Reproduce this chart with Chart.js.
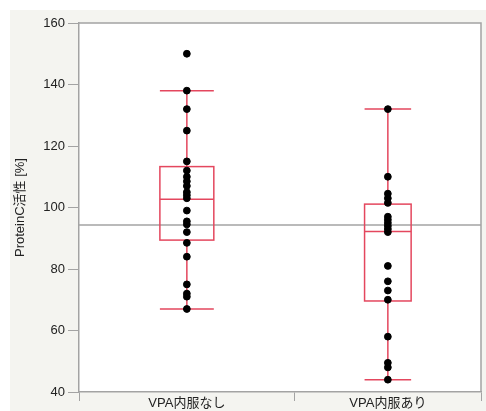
<!DOCTYPE html>
<html>
<head>
<meta charset="utf-8">
<script src="https://cdn.jsdelivr.net/npm/chart.js@4/dist/chart.umd.min.js"></script>
<style>
  html, body { margin: 0; padding: 0; background: #ffffff; }
  #wrap { width: 486px; height: 411px; }
</style>
</head>
<body>
<div id="wrap"><canvas id="myChart"></canvas></div>
<script>
var groups = ['VPA内服なし', 'VPA内服あり'];
var noVpa = [150, 138, 132, 125, 115, 112, 110, 108.5, 107, 105, 104, 103, 99, 95.5, 94.5, 92, 88.5, 84, 75, 72, 71, 67];
var withVpa = [132, 110, 104.5, 103, 101.5, 97, 96, 95, 94, 93, 92, 81, 76, 73, 70, 58, 49.5, 48, 44];

// Box plot stats per group
var whiskerLow = [67, 44];
var boxQ1 = [89.4, 69.6];
var boxMedian = [102.7, 92.2];
var boxQ3 = [113.3, 101.1];
var whiskerHigh = [138, 132];

// Grand mean line
var grandMean = 94.3;

// y axis ticks + title
var yMin = 40, yMax = 160, yStep = 20;
var yTitle = 'ProteinC活性 [%]';

// x layout: each group gets a width proportional to its size (like JMP)
var n1 = noVpa.length, n2 = withVpa.length;
var total = n1 + n2;
var centers = [n1 / 2, n1 + n2 / 2];
var counts = [n1, n2];

const boxColor = '#e4475e';
const axisColor = '#a3a3a3';
const fontFamily = 'Liberation Sans, Arial, Noto Sans CJK JP, sans-serif';

// Draws the panel background, plot frame, mean line and boxes
const boxPlugin = {
  id: 'boxPlugin',
  beforeDraw(chart) {
    const c = chart.ctx, a = chart.chartArea;
    c.save();
    c.fillStyle = '#f4f4f0';
    c.fillRect(10, 10, chart.width - 10, chart.height - 10);
    c.fillStyle = '#ffffff';
    c.fillRect(a.left, a.top, a.right - a.left, a.bottom - a.top);
    c.restore();
  },
  beforeDatasetsDraw(chart) {
    const c = chart.ctx, a = chart.chartArea;
    const xs = chart.scales.x, ys = chart.scales.y;
    c.save();
    // frame top / right
    c.strokeStyle = axisColor;
    c.lineWidth = 1.5;
    c.beginPath();
    c.moveTo(a.left, a.top);
    c.lineTo(a.right, a.top);
    c.lineTo(a.right, a.bottom);
    c.stroke();
    // grand mean
    const my = ys.getPixelForValue(grandMean);
    c.beginPath();
    c.moveTo(a.left, my);
    c.lineTo(a.right, my);
    c.stroke();
    // boxes
    c.strokeStyle = boxColor;
    c.lineWidth = 1.5;
    for (let i = 0; i < groups.length; i++) {
      const cx = xs.getPixelForValue(centers[i]);
      const hw = Math.abs(xs.getPixelForValue(centers[i] + counts[i] * 0.125) - cx);
      const yLo = ys.getPixelForValue(whiskerLow[i]);
      const yQ1 = ys.getPixelForValue(boxQ1[i]);
      const yMed = ys.getPixelForValue(boxMedian[i]);
      const yQ3 = ys.getPixelForValue(boxQ3[i]);
      const yHi = ys.getPixelForValue(whiskerHigh[i]);
      c.strokeRect(cx - hw, yQ3, hw * 2, yQ1 - yQ3);
      c.beginPath();
      c.moveTo(cx - hw, yMed); c.lineTo(cx + hw, yMed);
      c.moveTo(cx, yQ3); c.lineTo(cx, yHi);
      c.moveTo(cx, yQ1); c.lineTo(cx, yLo);
      c.moveTo(cx - hw, yHi); c.lineTo(cx + hw, yHi);
      c.moveTo(cx - hw, yLo); c.lineTo(cx + hw, yLo);
      c.stroke();
    }
    c.restore();
  }
};

const ctx = document.getElementById('myChart');
var myChart = new Chart(ctx, {
  type: 'scatter',
  data: {
    datasets: [
      {
        data: noVpa.map(v => ({ x: centers[0], y: v })),
        backgroundColor: '#000000',
        borderColor: '#000000',
        pointRadius: 3.4,
        pointHoverRadius: 3.4,
      },
      {
        data: withVpa.map(v => ({ x: centers[1], y: v })),
        backgroundColor: '#000000',
        borderColor: '#000000',
        pointRadius: 3.4,
        pointHoverRadius: 3.4,
      }
    ]
  },
  options: {
    responsive: true,
    maintainAspectRatio: false,
    animation: false,
    layout: { padding: { top: 23, right: 5, left: 0, bottom: 0 } },
    scales: {
      x: {
        type: 'linear',
        min: 0,
        max: total,
        afterBuildTicks: (scale) => {
          scale.ticks = [0, centers[0], n1, centers[1], total].map(v => ({ value: v }));
        },
        afterFit: (scale) => { scale.height = 19; },
        ticks: {
          autoSkip: false,
          maxRotation: 0,
          padding: -5,
          color: '#222',
          font: { family: fontFamily, size: 13 },
          callback: (value) => {
            const i = centers.indexOf(value);
            return i >= 0 ? groups[i] : '';
          }
        },
        grid: {
          drawOnChartArea: false,
          drawTicks: true,
          tickLength: 9,
          color: (c) => (c.tick && centers.indexOf(c.tick.value) >= 0) ? 'rgba(0,0,0,0)' : axisColor,
        },
        border: { color: axisColor, width: 1.5 },
      },
      y: {
        min: yMin,
        max: yMax,
        afterFit: (scale) => { scale.width = 79; },
        ticks: {
          stepSize: yStep,
          padding: 3,
          color: '#222',
          font: { family: fontFamily, size: 13 },
        },
        grid: {
          drawOnChartArea: false,
          drawTicks: true,
          tickLength: 11,
          color: axisColor,
        },
        border: { color: axisColor, width: 1.5 },
        title: {
          display: true,
          text: yTitle,
          color: '#222',
          padding: { top: 13, bottom: 0 },
          font: { family: fontFamily, size: 13 },
        }
      }
    },
    plugins: {
      legend: { display: false },
      tooltip: { enabled: false },
    }
  },
  plugins: [boxPlugin]
});
</script>
</body>
</html>
